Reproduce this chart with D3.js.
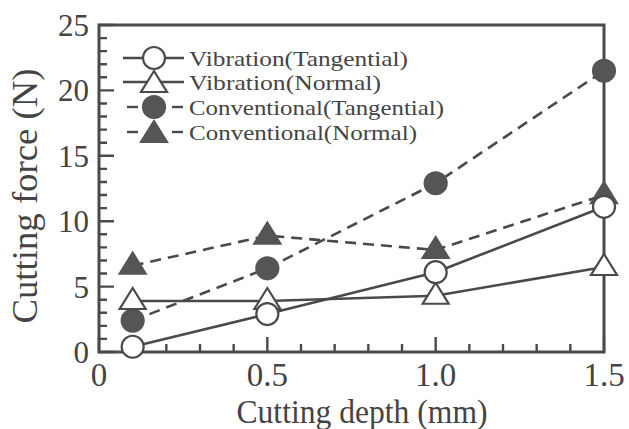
<!DOCTYPE html>
<html>
<head>
<meta charset="utf-8">
<script src="https://cdn.jsdelivr.net/npm/d3@7"></script>
<style>
  body { margin: 0; background: #fff; }
  text { font-family: "Liberation Serif", "DejaVu Serif", serif; fill: #444; }
</style>
</head>
<body>
<script>
// chart data
var depths = [0.1, 0.5, 1.0, 1.5];
var vibTangential = [0.4, 2.9, 6.1, 11.1];
var vibNormal = [3.9, 3.9, 4.3, 6.5];
var convTangential = [2.4, 6.4, 12.9, 21.5];
var convNormal = [6.6, 8.9, 7.8, 12.0];
var xTicks = [0, 0.5, 1.0, 1.5];
var yTicks = [0, 5, 10, 15, 20, 25];

var seriesList = [
  {name: "Conventional(Tangential)", values: convTangential, shape: "circle", filled: true, dashed: true, legW: 255},
  {name: "Conventional(Normal)", values: convNormal, shape: "triangle", filled: true, dashed: true, legW: 228},
  {name: "Vibration(Normal)", values: vibNormal, shape: "triangle", filled: false, dashed: false, legW: 192},
  {name: "Vibration(Tangential)", values: vibTangential, shape: "circle", filled: false, dashed: false, legW: 219}
];
var legendOrder = [3, 2, 0, 1];

var w = 629, h = 429;
var ink = "#4a4a4a";
// plot frame edges
var pLeft = 99, pRight = 604, pTop = 25, pBottom = 352;

var svg = d3.select("body").append("svg")
  .attr("width", w)
  .attr("height", h);

var x = d3.scaleLinear().domain([0, 1.5]).range([pLeft, pRight]);
var y = d3.scaleLinear().domain([0, 25]).range([pBottom, pTop]);

// inward ticks on left and bottom, one path each
var xMinor = d3.range(0, 16).map(function(i) { return i / 10; });
var yMinor = d3.range(0, 26);
var tickPath = d3.path();
xMinor.forEach(function(d, i) {
  tickPath.moveTo(x(d), pBottom);
  tickPath.lineTo(x(d), pBottom - (i % 5 === 0 ? 15 : 8));
});
yMinor.forEach(function(d) {
  tickPath.moveTo(pLeft, y(d));
  tickPath.lineTo(pLeft + (d % 5 === 0 ? 15 : 8), y(d));
});
svg.append("path")
  .attr("d", tickPath.toString())
  .attr("fill", "none")
  .attr("stroke", ink)
  .attr("stroke-width", 2.4);

// frame
svg.append("rect")
  .attr("x", pLeft).attr("y", pTop)
  .attr("width", pRight - pLeft).attr("height", pBottom - pTop)
  .attr("fill", "none").attr("stroke", ink).attr("stroke-width", 3);

// tick labels
svg.selectAll(".xlab").data(xTicks).enter().append("text")
  .attr("x", function(d) { return x(d); })
  .attr("y", 386)
  .attr("text-anchor", "middle")
  .attr("font-size", 33)
  .text(function(d) { return d === 0 ? "0" : d.toFixed(1); });

svg.selectAll(".ylab").data(yTicks).enter().append("text")
  .attr("x", pLeft - 10)
  .attr("y", function(d) { return y(d) + 11; })
  .attr("text-anchor", "end")
  .attr("font-size", 31)
  .text(function(d) { return d; });

// axis titles
svg.append("text")
  .attr("x", 362).attr("y", 423)
  .attr("text-anchor", "middle").attr("font-size", 33)
  .attr("textLength", 251).attr("lengthAdjust", "spacingAndGlyphs")
  .text("Cutting depth (mm)");

svg.append("text")
  .attr("transform", "translate(37,196) rotate(-90)")
  .attr("text-anchor", "middle").attr("font-size", 36)
  .attr("textLength", 255).attr("lengthAdjust", "spacingAndGlyphs")
  .text("Cutting force (N)");

var line = d3.line()
  .x(function(d, i) { return x(depths[i]); })
  .y(function(d) { return y(d); });

// triangle with its data point a bit below the centre, like the figure
var triPath = "M0,-13L13,8L-13,8Z";

var drawMarker = function(g, s, cx, cy) {
  if (s.shape === "circle") {
    g.append("circle")
      .attr("cx", cx).attr("cy", cy).attr("r", 11)
      .attr("fill", s.filled ? "#555" : "#fff")
      .attr("stroke", s.filled ? "#555" : ink)
      .attr("stroke-width", 2.2);
  } else {
    g.append("path")
      .attr("d", triPath)
      .attr("transform", "translate(" + cx + "," + cy + ")")
      .attr("fill", s.filled ? "#555" : "#fff")
      .attr("stroke", s.filled ? "#555" : ink)
      .attr("stroke-width", 2.2);
  }
};

// lines first, then markers
seriesList.forEach(function(s) {
  svg.append("path")
    .datum(s.values)
    .attr("d", line)
    .attr("fill", "none")
    .attr("stroke", ink)
    .attr("stroke-width", 2.6)
    .attr("stroke-dasharray", s.dashed ? "11,7" : null);
});

seriesList.forEach(function(s) {
  var g = svg.append("g");
  s.values.forEach(function(v, i) {
    drawMarker(g, s, x(depths[i]), y(v));
  });
});

// legend
var legY = [58, 82, 107, 132];
legendOrder.forEach(function(idx, row) {
  var s = seriesList[idx];
  var ly = legY[row];
  var g = svg.append("g");
  if (s.dashed) {
    g.append("line").attr("x1", 127).attr("x2", 138).attr("y1", ly).attr("y2", ly)
      .attr("stroke", ink).attr("stroke-width", 2.4);
    g.append("line").attr("x1", 172).attr("x2", 183).attr("y1", ly).attr("y2", ly)
      .attr("stroke", ink).attr("stroke-width", 2.4);
  } else {
    g.append("line").attr("x1", 123).attr("x2", 184).attr("y1", ly).attr("y2", ly)
      .attr("stroke", ink).attr("stroke-width", 2.4);
  }
  drawMarker(g, s, 154, s.shape === "triangle" ? ly + 2 : ly);
  svg.append("text")
    .attr("x", 189).attr("y", ly + 8)
    .attr("font-size", 22)
    .attr("textLength", s.legW).attr("lengthAdjust", "spacingAndGlyphs")
    .text(s.name);
});
</script>
</body>
</html>
